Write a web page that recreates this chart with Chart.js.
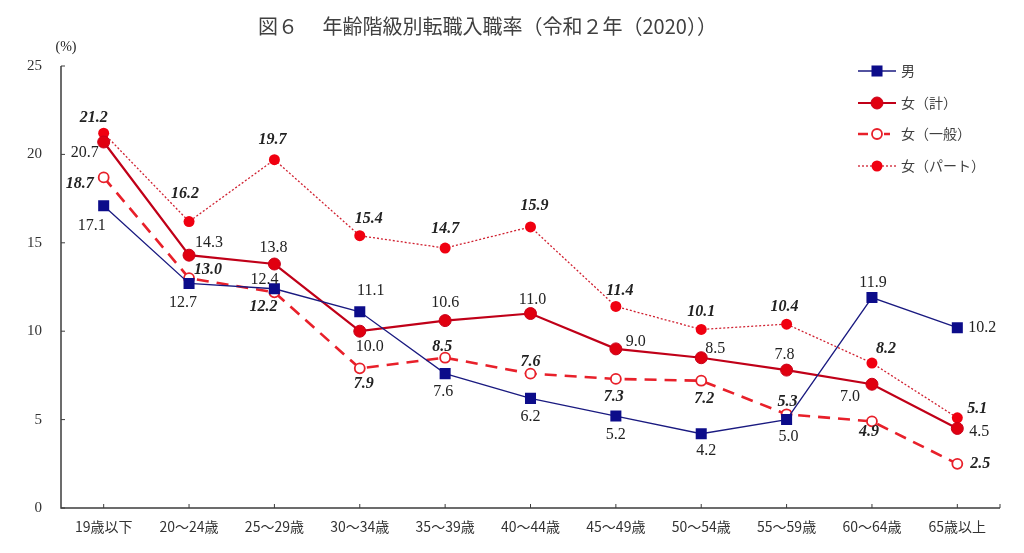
<!DOCTYPE html>
<html><head><meta charset="utf-8">
<script src="https://cdn.jsdelivr.net/npm/chart.js@4"></script>
<style>html,body{margin:0;padding:0;background:#fff;overflow:hidden;}#wrap{width:1024px;height:553px;position:relative;}</style>
</head><body><div id="wrap"><canvas id="c" width="1024" height="553"></canvas></div>
<script>
const categories = ['19歳以下','20～24歳','25～29歳','30～34歳','35～39歳','40～44歳','45～49歳','50～54歳','55～59歳','60～64歳','65歳以上'];
const male = [17.1,12.7,12.4,11.1,7.6,6.2,5.2,4.2,5.0,11.9,10.2];
const femaleTotal = [20.7,14.3,13.8,10.0,10.6,11.0,9.0,8.5,7.8,7.0,4.5];
const femaleGeneral = [18.7,13.0,12.2,7.9,8.5,7.6,7.3,7.2,5.3,4.9,2.5];
const femalePart = [21.2,16.2,19.7,15.4,14.7,15.9,11.4,10.1,10.4,8.2,5.1];
const seriesNames = ['男','女（計）','女（一般）','女（パート）'];
const yTicks = [0,5,10,15,20,25];
const titleText = '図６　 年齢階級別転職入職率（令和２年（2020））';

// label placement offsets (dx, dy) per point, pixels
const labelOffsets = [
  [[-12,20],[-6,19],[-10,-9],[11,-21],[-2,18],[0,18],[0,19],[5,17],[2,17],[1,-15],[25,0]],
  [[-19,11],[20,-12],[-1,-16],[10,16],[0,-18],[2,-14],[20,-7],[14,-9],[-2,-15],[-22,13],[22,3]],
  [[-24,6],[19,-8],[-11,15],[4,16],[-3,-11],[0,-12],[-2,18],[3,18],[1,-12],[-3,10],[23,0]],
  [[-10,-15],[-4,-28],[-2,-20],[9,-17],[0,-19],[4,-21],[4,-16],[0,-18],[-2,-17],[14,-14],[20,-9]]
];
const labelFonts = ['16px "Liberation Serif"','16px "Liberation Serif"','italic bold 16px "Liberation Serif"','italic bold 16px "Liberation Serif"'];

const L = 61, R = 1000, T = 66, B = 508;

const decor = {
  id: 'decor',
  afterDraw(chart) {
    const ctx = chart.ctx;
    const xs = chart.scales.x, ys = chart.scales.y;
    ctx.save();
    // title
    ctx.fillStyle = '#404040';
    ctx.font = '20px "Noto Sans CJK JP"';
    ctx.textAlign = 'left'; ctx.textBaseline = 'middle';
    ctx.fillText(titleText, 258, 26);
    // unit
    ctx.font = '14px "Liberation Serif"';
    ctx.fillStyle = '#222';
    ctx.textAlign = 'center';
    ctx.fillText('(%)', 66, 47);
    // axes lines
    ctx.strokeStyle = '#3c3c3c';
    ctx.lineWidth = 1.5;
    ctx.beginPath();
    ctx.moveTo(L, ys.getPixelForValue(25)); ctx.lineTo(L, B); ctx.lineTo(R, B);
    ctx.stroke();
    // inward ticks
    ctx.lineWidth = 1;
    yTicks.forEach(v => { const y = ys.getPixelForValue(v); ctx.beginPath(); ctx.moveTo(L, y); ctx.lineTo(L+4, y); ctx.stroke(); });
    categories.forEach((c,i) => { const x = xs.getPixelForValue(i); ctx.beginPath(); ctx.moveTo(x, B); ctx.lineTo(x, B-4); ctx.stroke(); });
    ctx.beginPath(); ctx.moveTo(R, B); ctx.lineTo(R, B-4); ctx.stroke();
    // data labels
    ctx.fillStyle = '#222';
    ctx.textAlign = 'center'; ctx.textBaseline = 'middle';
    chart.data.datasets.forEach((ds, di) => {
      const meta = chart.getDatasetMeta(di);
      ctx.font = labelFonts[di];
      meta.data.forEach((pt, i) => {
        const off = labelOffsets[di][i];
        ctx.fillText(ds.data[i].toFixed(1), pt.x + off[0], pt.y + off[1]);
      });
    });
    // legend
    const ly = [71, 103, 134, 166];
    chart.data.datasets.forEach((ds, di) => {
      const y = ly[di];
      ctx.save();
      ctx.strokeStyle = ds.borderColor;
      ctx.lineWidth = ds.borderWidth;
      ctx.setLineDash(ds.borderDash || []);
      ctx.beginPath();
      if (di === 2) {
        ctx.setLineDash([]);
        ctx.moveTo(858, y); ctx.lineTo(868, y);
        ctx.moveTo(884, y); ctx.lineTo(890, y);
      } else {
        ctx.moveTo(858, y); ctx.lineTo(896, y);
      }
      ctx.stroke();
      ctx.restore();
      ctx.save();
      ctx.fillStyle = ds.pointBackgroundColor; ctx.strokeStyle = ds.pointBorderColor; ctx.lineWidth = ds.pointBorderWidth;
      Chart.helpers.drawPoint(ctx, {pointStyle: ds.pointStyle, radius: ds.pointRadius, borderWidth: ds.pointBorderWidth, rotation: 0}, 877, y);
      ctx.restore();
      ctx.fillStyle = '#404040';
      ctx.font = '14px "Noto Sans CJK JP"';
      ctx.textAlign = 'left';
      ctx.fillText(ds.label, 901, y);
    });
    ctx.restore();
  }
};

new Chart(document.getElementById('c'), {
  type: 'line',
  data: {
    labels: categories,
    datasets: [
      { label: seriesNames[0], data: male, borderColor: '#1a1a80', borderWidth: 1.3,
        pointStyle: 'rect', pointRadius: 7.8, pointBackgroundColor: '#0c0c8a', pointBorderColor: '#0c0c8a', pointBorderWidth: 0, order: 1 },
      { label: seriesNames[1], data: femaleTotal, borderColor: '#c00018', borderWidth: 2.2,
        pointStyle: 'circle', pointRadius: 6, pointBackgroundColor: '#e00010', pointBorderColor: '#c8001a', pointBorderWidth: 1, order: 2 },
      { label: seriesNames[2], data: femaleGeneral, borderColor: '#e8202a', borderWidth: 2.6, borderDash: [12,8],
        pointStyle: 'circle', pointRadius: 5, pointBackgroundColor: '#ffffff', pointBorderColor: '#e8202a', pointBorderWidth: 1.8, order: 3 },
      { label: seriesNames[3], data: femalePart, borderColor: '#d02030', borderWidth: 1.3, borderDash: [2,2],
        pointStyle: 'circle', pointRadius: 5.5, pointBackgroundColor: '#f00010', pointBorderColor: '#f00010', pointBorderWidth: 0, order: 4 }
    ]
  },
  options: {
    responsive: false, animation: false, devicePixelRatio: 1,
    layout: { padding: { top: T, right: 1024 - R, bottom: 0, left: 0 } },
    plugins: { legend: { display: false }, title: { display: false }, tooltip: { enabled: false } },
    elements: { line: { tension: 0 } },
    scales: {
      x: {
        offset: true,
        grid: { display: false, drawTicks: false },
        border: { display: false },
        ticks: { color: '#333', font: { family: '"Noto Sans CJK JP"', size: 14 }, padding: 10, maxRotation: 0, autoSkip: false },
        afterFit(s) { s.height = 553 - B; }
      },
      y: {
        min: 0, max: 25,
        afterBuildTicks(s) { s.ticks = yTicks.map(v => ({ value: v })); },
        grid: { display: false, drawTicks: false },
        border: { display: false },
        ticks: { color: '#333', font: { family: '"Liberation Serif"', size: 15 }, padding: 19 },
        afterFit(s) { s.width = L; }
      }
    }
  },
  plugins: [decor]
});
</script></body></html>
